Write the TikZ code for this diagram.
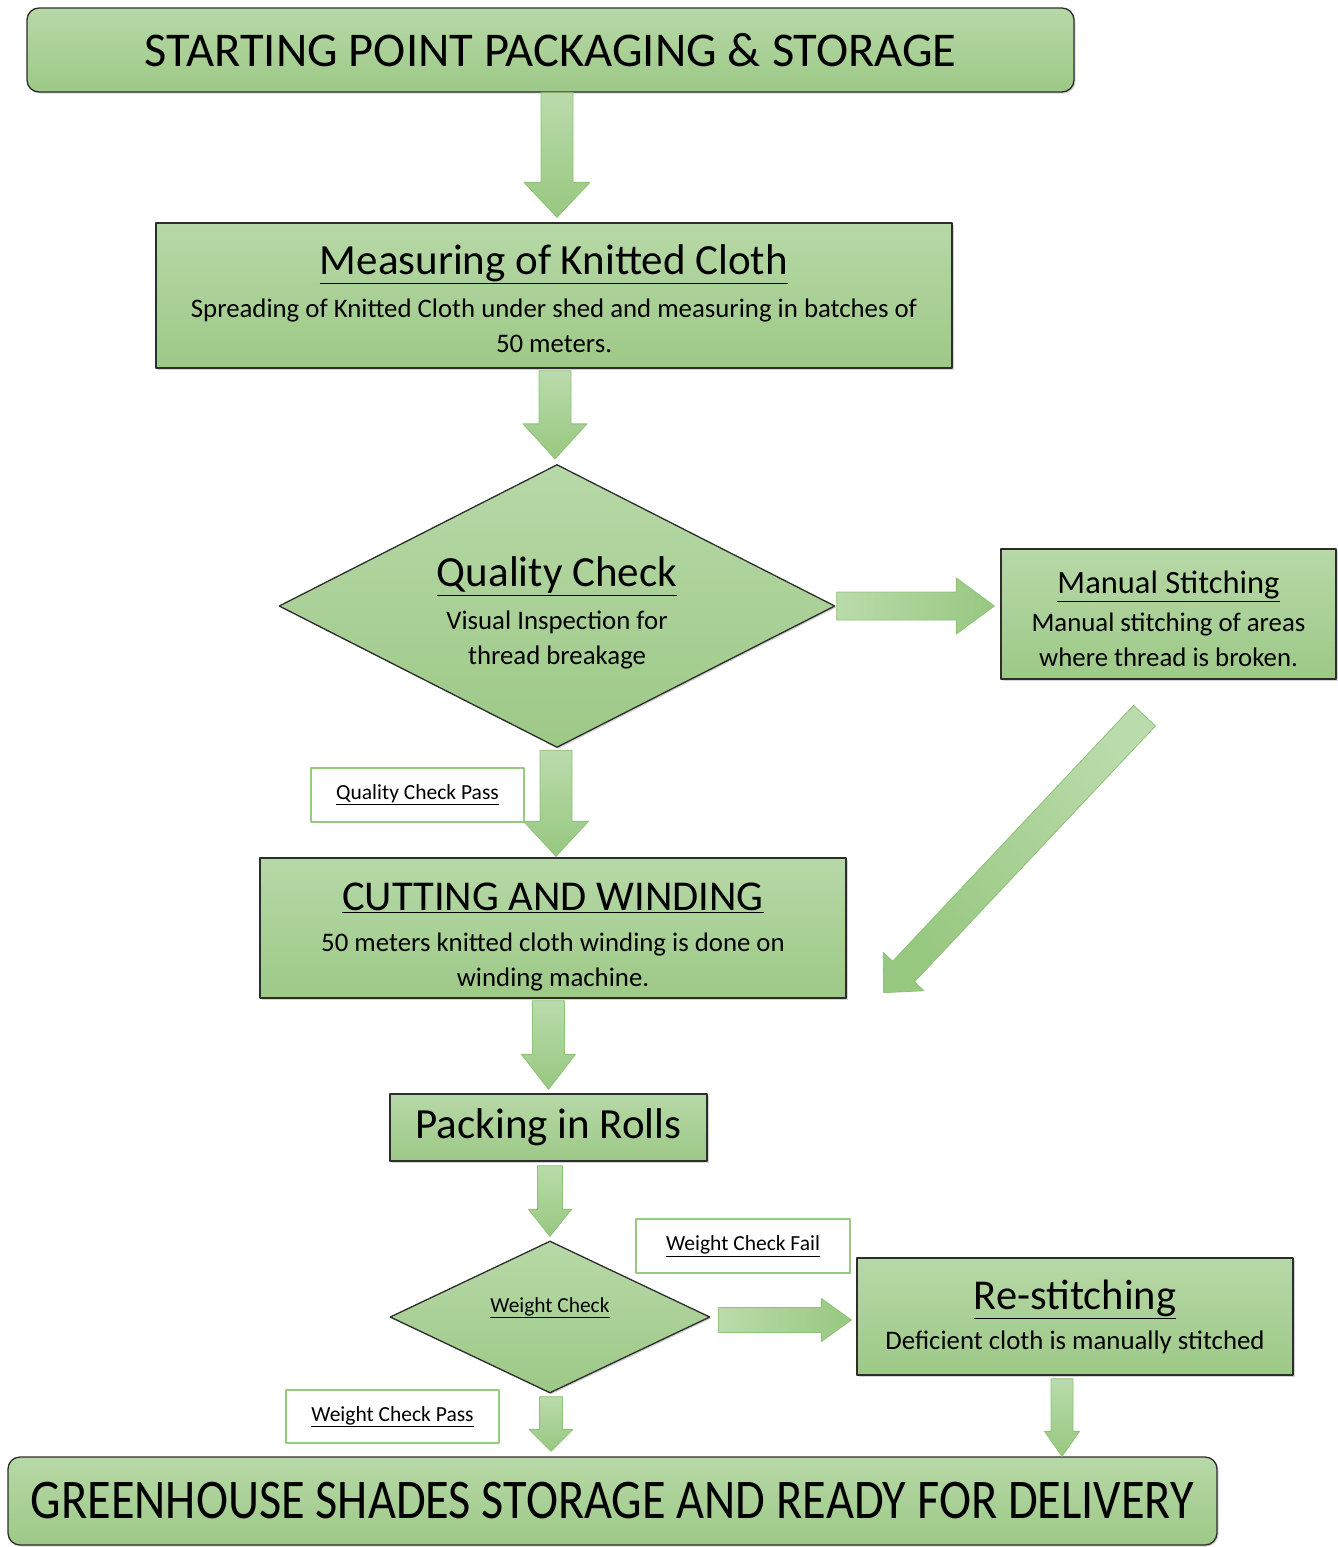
\documentclass[tikz,border=0pt]{standalone}
\usepackage{fontspec}
\setmainfont{Carlito}
\usetikzlibrary{shapes.geometric,calc,shadows}

\definecolor{boxtop}{RGB}{183,216,167}
\definecolor{boxbot}{RGB}{157,201,135}
\definecolor{arrtop}{RGB}{186,219,171}
\definecolor{arrbot}{RGB}{151,200,128}
\definecolor{arrline}{RGB}{142,194,118}
\definecolor{lblline}{RGB}{152,202,130}
\definecolor{boxline}{RGB}{45,45,45}

\newcommand{\titlefont}{\fontsize{43}{48}\selectfont}
\newcommand{\bodyfont}{\fontsize{26.8}{35}\selectfont}

\tikzset{
  stagebox/.style={draw=boxline, line width=1.3pt, top color=boxtop, bottom color=boxbot,
    align=center, inner sep=0pt, text=black, font=\bodyfont,
    drop shadow={shadow xshift=1.5pt, shadow yshift=-1.5pt, opacity=0.35}},
  endbox/.style={stagebox, rounded corners=12pt},
  checkbox/.style={stagebox, shape=diamond, aspect=2},
  passlabel/.style={draw=lblline, line width=1.4pt, fill=white, inner sep=0pt,
    font=\fontsize{21.5}{25}\selectfont},
  downarrow/.style={draw=arrline, line width=0.8pt, top color=arrtop, bottom color=arrbot},
  rightarrow/.style={draw=arrline, line width=0.8pt, left color=arrtop, right color=arrbot},
  diagarrow/.style={downarrow, shading angle=-45},
}

% #1 style, #2 from, #3 to, #4 shaft half width, #5 head half width, #6 head length
\newcommand{\blockarrow}[6]{%
  \coordinate (ba-s) at (#2);
  \coordinate (ba-e) at (#3);
  \coordinate (ba-h) at ($(ba-e)!#6pt!(ba-s)$);
  \path[#1] ($(ba-s)!#4pt!90:(ba-e)$) -- ($(ba-h)!#4pt!90:(ba-e)$)
    -- ($(ba-h)!#5pt!90:(ba-e)$) -- (ba-e) -- ($(ba-h)!#5pt!-90:(ba-e)$)
    -- ($(ba-h)!#4pt!-90:(ba-e)$) -- ($(ba-s)!#4pt!-90:(ba-e)$) -- cycle;}

\begin{document}
\begin{tikzpicture}[x=1pt,y=-1pt,line cap=round,line join=round]
  \useasboundingbox (0,0) rectangle (1338,1547);

  \node[endbox, minimum width=1047, minimum height=84, font=\fontsize{48.5}{54}\selectfont]
    (start) at (550.5,50) {STARTING POINT PACKAGING \& STORAGE};
  \node[stagebox, minimum width=796, minimum height=145] (measure) at (554,295.5)
    {\titlefont\rule{0pt}{37pt}\underline{Measuring of Knitted Cloth}\\[8pt]
     Spreading of Knitted Cloth under shed and measuring in batches of\\50 meters.};
  \node[checkbox, minimum width=556, minimum height=283] (quality) at (557,606)
    {\titlefont\rule{0pt}{44pt}\underline{Quality Check}\\[8pt]
     Visual Inspection for\\thread breakage};
  \node[stagebox, minimum width=335, minimum height=130] (manual) at (1168.5,614)
    {\fontsize{32.5}{38}\selectfont\rule{0pt}{33pt}\underline{Manual Stitching}\\[3pt]
     Manual stitching of areas\\where thread is broken.};
  \node[stagebox, minimum width=586, minimum height=140] (cutting) at (553,928)
    {\fontsize{42.5}{48}\selectfont\rule{0pt}{45pt}\underline{CUTTING AND WINDING}\\[6pt]
     50 meters knitted cloth winding is done on\\winding machine.};
  \node[stagebox, minimum width=317, minimum height=67, font=\titlefont]
    (packing) at (548.5,1127.5) {Packing in Rolls};
  \node[checkbox, minimum width=320, minimum height=152, font=\fontsize{21.4}{26}\selectfont]
    (weight) at (550,1317) {\underline{Weight Check}\rule[-24pt]{0pt}{24pt}};
  \node[stagebox, minimum width=436, minimum height=117] (restitch) at (1075,1316.5)
    {\fontsize{42.5}{48}\selectfont\underline{Re-stitching}\\[5pt]
     Deficient cloth is manually stitched};
  \node[endbox, minimum width=1209, minimum height=88, font=\fontsize{56}{62}\selectfont]
    (final) at (612.5,1501)
    {\scalebox{0.863}[1]{GREENHOUSE SHADES STORAGE AND READY FOR DELIVERY}};

  \node[passlabel, minimum width=213, minimum height=54] (qpass) at (417.5,795)
    {\underline{Quality Check Pass}};
  \node[passlabel, minimum width=214, minimum height=54] (wfail) at (743,1246)
    {\underline{Weight Check Fail}};
  \node[passlabel, minimum width=213, minimum height=53] (wpass) at (392.5,1416.5)
    {\underline{Weight Check Pass}};

  \blockarrow{downarrow}{$(measure.north |- start.south)+(3,0)$}{$(measure.north)+(3,-5)$}{16}{33}{35}
  \blockarrow{downarrow}{$(measure.south)+(1,2)$}{$(quality.north)+(-2,-5)$}{16}{32}{35}
  \blockarrow{rightarrow}{$(quality.east)+(1,0)$}{$(manual.west |- quality.east)+(-6,0)$}{14}{28}{38}
  \blockarrow{diagarrow}{$(manual.south)+(-24,36)$}{$(cutting.south east)+(37,-6)$}{15}{28}{29}
  \blockarrow{downarrow}{$(quality.south)+(-1,2)$}{$(cutting.north -| quality.south)+(-1,-1)$}{16}{32.5}{35}
  \blockarrow{downarrow}{$(packing.north |- cutting.south)+(0,2)$}{$(packing.north)+(0,-4)$}{16}{27}{35}
  \blockarrow{downarrow}{$(packing.south)+(1.5,4)$}{$(weight.north)+(0,-4)$}{12.5}{21.5}{27}
  \blockarrow{rightarrow}{$(weight.east)+(8,3)$}{$(restitch.west)+(-5,3.5)$}{12.5}{21.5}{30}
  \blockarrow{downarrow}{$(restitch.south)+(-13,3)$}{$(restitch.south |- final.north)+(-13,0)$}{11}{17.5}{25}
  \blockarrow{downarrow}{$(weight.south)+(1,3)$}{$(final.north -| weight.south)+(1,-5)$}{11.5}{22}{22}
\end{tikzpicture}
\end{document}
